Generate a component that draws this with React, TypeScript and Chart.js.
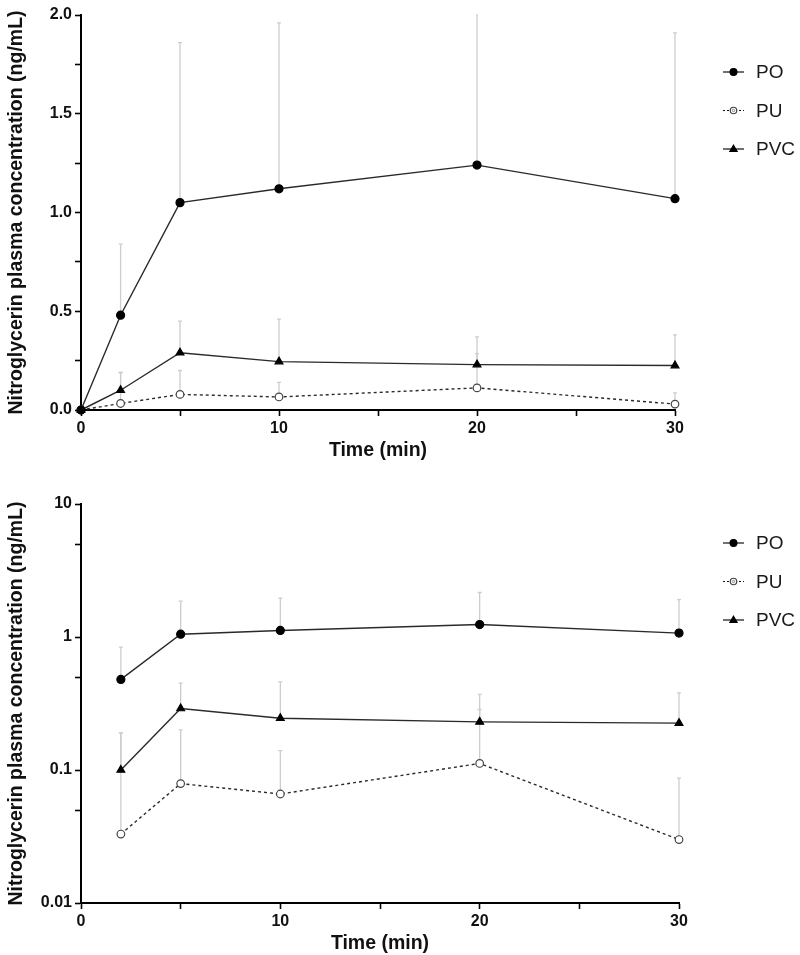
import React, { useEffect, useRef } from 'react';
import { Chart, registerables } from 'chart.js';

Chart.register(...registerables);

// ---------- data ----------
const TIMES = [0, 2, 5, 10, 20, 30];
const SERIES_NAMES = ['PO', 'PU', 'PVC'];
const PO_MEAN = [0, 0.48, 1.05, 1.12, 1.24, 1.07];
const PO_SD = [0, 0.36, 0.81, 0.84, 0.92, 0.84];
const PU_MEAN = [0, 0.033, 0.079, 0.066, 0.112, 0.03];
const PU_SD = [0, 0.157, 0.121, 0.074, 0.173, 0.057];
const PVC_MEAN = [0, 0.1, 0.29, 0.245, 0.23, 0.225];
const PVC_SD = [0, 0.09, 0.16, 0.215, 0.14, 0.155];

const X_TICKS = [0, 5, 10, 15, 20, 25, 30];
const X_LABELED = [0, 10, 20, 30];
const Y_LIN_TICKS = [0, 0.25, 0.5, 0.75, 1, 1.25, 1.5, 1.75, 2];
const Y_LIN_LABELED = [0, 0.5, 1, 1.5, 2];
const Y_LOG_TICKS = [0.01, 0.05, 0.1, 0.5, 1, 5, 10];
const Y_LOG_LABELED = [0.01, 0.1, 1, 10];

const X_TITLE = 'Time (min)';
const Y_TITLE = 'Nitroglycerin plasma concentration (ng/mL)';

const FONT = "'Liberation Sans', Arial, Helvetica, sans-serif";

const MEANS = [PO_MEAN, PU_MEAN, PVC_MEAN];
const SDS = [PO_SD, PU_SD, PVC_SD];
const STYLES = [
  { pointStyle: 'circle', radius: 4, fill: '#000', dash: [] as number[] },
  { pointStyle: 'circle', radius: 3.8, fill: '#fff', dash: [3, 3] },
  { pointStyle: 'triangle', radius: 4.5, fill: '#000', dash: [] as number[] },
];

// ---------- plugins ----------
const errorBarPlugin = {
  id: 'errorBars',
  beforeDatasetsDraw(chart: any, _args: any, opts: any) {
    const { ctx, chartArea, scales } = chart;
    const x = scales.x;
    const y = scales.y;
    ctx.save();
    ctx.beginPath();
    ctx.rect(chartArea.left - 5, chartArea.top - 1, chartArea.right - chartArea.left + 10, chartArea.bottom - chartArea.top + 1);
    ctx.clip();
    ctx.strokeStyle = '#cdcdcd';
    ctx.lineWidth = 1.3;
    chart.data.datasets.forEach((ds: any, di: number) => {
      const sd = opts.sds[di];
      ds.data.forEach((p: any, i: number) => {
        const s = sd[i + opts.offset];
        if (!s) return;
        const px = x.getPixelForValue(p.x);
        const py = y.getPixelForValue(p.y);
        const top = y.getPixelForValue(p.y + s);
        ctx.beginPath();
        ctx.moveTo(px, py);
        ctx.lineTo(px, top);
        ctx.moveTo(px - 2, top);
        ctx.lineTo(px + 2, top);
        ctx.stroke();
      });
    });
    ctx.restore();
  },
};

function drawMarker(ctx: CanvasRenderingContext2D, kind: number, cx: number, cy: number) {
  const st = STYLES[kind];
  ctx.save();
  ctx.setLineDash([]);
  ctx.fillStyle = st.fill;
  ctx.strokeStyle = kind === 1 ? '#444' : '#000';
  ctx.lineWidth = 1.2;
  ctx.beginPath();
  const r = st.radius * 0.85;
  if (st.pointStyle === 'triangle') {
    ctx.moveTo(cx, cy - r);
    ctx.lineTo(cx + r * 0.95, cy + r * 0.65);
    ctx.lineTo(cx - r * 0.95, cy + r * 0.65);
    ctx.closePath();
  } else {
    ctx.arc(cx, cy, r, 0, Math.PI * 2);
  }
  ctx.fill();
  ctx.stroke();
  if (kind === 1) {
    ctx.beginPath();
    ctx.arc(cx, cy, 1.2, 0, Math.PI * 2);
    ctx.strokeStyle = '#888';
    ctx.lineWidth = 1;
    ctx.stroke();
  }
  ctx.restore();
}

const legendPlugin = {
  id: 'sideLegend',
  afterDraw(chart: any, _args: any, opts: any) {
    const { ctx } = chart;
    ctx.save();
    SERIES_NAMES.forEach((name, i) => {
      const cy = opts.top + i * opts.gap;
      ctx.beginPath();
      ctx.strokeStyle = '#111';
      ctx.lineWidth = 1.2;
      ctx.setLineDash(STYLES[i].dash.length ? [2, 2] : []);
      ctx.moveTo(opts.x, cy);
      ctx.lineTo(opts.x + 21, cy);
      ctx.stroke();
      drawMarker(ctx, i, opts.x + 10.5, cy);
      ctx.setLineDash([]);
      ctx.fillStyle = '#1a1a1a';
      ctx.font = `19px ${FONT}`;
      ctx.textBaseline = 'middle';
      ctx.textAlign = 'left';
      ctx.fillText(name, opts.x + 33, cy + 1);
    });
    ctx.restore();
  },
};

// ---------- panel ----------
type PanelProps = {
  height: number;
  log: boolean;
  padTop: number;
  padRight: number;
  xAxisHeight: number;
  xTitlePadBottom: number;
  legendTop: number;
};

function Panel(props: PanelProps) {
  const ref = useRef<HTMLCanvasElement | null>(null);
  useEffect(() => {
    if (!ref.current) return;
    const offset = props.log ? 1 : 0;
    const times = TIMES.slice(offset);
    const datasets = SERIES_NAMES.map((name, i) => ({
      label: name,
      data: times.map((t, j) => ({ x: t, y: MEANS[i][j + offset] })),
      borderColor: '#2a2a2a',
      borderWidth: 1.4,
      borderDash: STYLES[i].dash,
      pointStyle: STYLES[i].pointStyle,
      pointRadius: STYLES[i].radius,
      pointBackgroundColor: STYLES[i].fill,
      pointBorderColor: i === 1 ? '#444' : '#000',
      pointBorderWidth: 1.2,
      tension: 0,
      fill: false,
      clip: false,
    }));
    const tickFont = { family: FONT, size: 16, weight: 'bold' as const };
    const titleFont = { family: FONT, size: 19.5, weight: 'bold' as const, lineHeight: 1 };
    const gridCfg = () => ({
      drawOnChartArea: false,
      drawTicks: true,
      tickLength: 6,
      tickWidth: 1.6,
      tickColor: '#000',
      color: '#000',
    });
    const chart = new Chart(ref.current, {
      type: 'line',
      data: { datasets: datasets as any },
      options: {
        animation: false,
        responsive: false,
        maintainAspectRatio: false,
        layout: { padding: { top: props.padTop, right: props.padRight, left: 0, bottom: 0 } },
        plugins: {
          legend: { display: false },
          tooltip: { enabled: false },
          errorBars: { sds: SDS, offset } as any,
          sideLegend: { x: 723, top: props.legendTop, gap: 38.5 } as any,
        } as any,
        scales: {
          x: {
            type: 'linear',
            min: 0,
            max: 30,
            afterBuildTicks: (s: any) => {
              s.ticks = X_TICKS.map((v) => ({ value: v }));
            },
            afterFit: (s: any) => {
              s.height = props.xAxisHeight;
            },
            ticks: {
              autoSkip: false,
              maxRotation: 0,
              padding: 3,
              color: '#111',
              font: tickFont,
              callback: (v: any) => (X_LABELED.includes(Number(v)) ? String(v) : ''),
            },
            grid: gridCfg() as any,
            border: { display: true, color: '#000', width: 2 },
            title: {
              display: true,
              text: X_TITLE,
              color: '#111',
              font: titleFont,
              padding: { top: 0, bottom: props.xTitlePadBottom },
            },
          },
          y: props.log
            ? {
                type: 'logarithmic',
                min: 0.01,
                max: 10,
                afterBuildTicks: (s: any) => {
                  s.ticks = Y_LOG_TICKS.map((v) => ({ value: v }));
                },
                afterFit: (s: any) => {
                  s.width = 81;
                },
                ticks: {
                  autoSkip: false,
                  padding: 3,
                  color: '#111',
                  font: tickFont,
                  callback: (v: any) => (Y_LOG_LABELED.some((w) => Math.abs(w - Number(v)) < 1e-9) ? String(v) : ''),
                },
                grid: gridCfg() as any,
                border: { display: true, color: '#000', width: 2 },
                title: { display: true, text: Y_TITLE, color: '#111', font: titleFont, padding: { top: 7, bottom: 0 } },
              }
            : {
                type: 'linear',
                min: 0,
                max: 2,
                afterBuildTicks: (s: any) => {
                  s.ticks = Y_LIN_TICKS.map((v) => ({ value: v }));
                },
                afterFit: (s: any) => {
                  s.width = 81;
                },
                ticks: {
                  autoSkip: false,
                  padding: 3,
                  color: '#111',
                  font: tickFont,
                  callback: (v: any) => (Y_LIN_LABELED.includes(Number(v)) ? Number(v).toFixed(1) : ''),
                },
                grid: gridCfg() as any,
                border: { display: true, color: '#000', width: 2 },
                title: { display: true, text: Y_TITLE, color: '#111', font: titleFont, padding: { top: 7, bottom: 0 } },
              },
        } as any,
      },
      plugins: [errorBarPlugin, legendPlugin],
    });
    return () => chart.destroy();
  }, []);
  return <canvas ref={ref} width={800} height={props.height} style={{ display: 'block', width: 800, height: props.height }} />;
}

export default function App() {
  return (
    <div style={{ position: 'absolute', left: 0, top: 0, width: 800, height: 955, background: '#fff' }}>
      <Panel height={460} log={false} padTop={15} padRight={125} xAxisHeight={50} xTitlePadBottom={0} legendTop={72} />
      <Panel height={495} log={true} padTop={44} padRight={121} xAxisHeight={52} xTitlePadBottom={2} legendTop={83} />
    </div>
  );
}
